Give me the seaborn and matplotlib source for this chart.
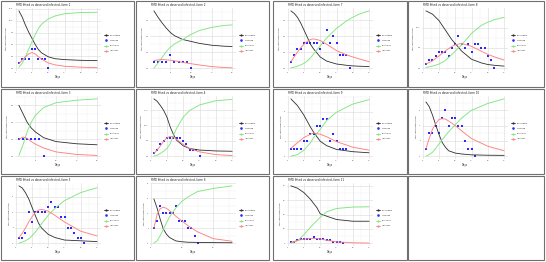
import matplotlib
matplotlib.use("Agg")
import matplotlib.pyplot as plt
import seaborn as sns
from matplotlib.lines import Line2D
from matplotlib.patches import Rectangle
from matplotlib.ticker import AutoMinorLocator

sns.set_theme(style="white")
plt.rcParams['font.family'] = ['DejaVu Sans']

# ---------------- data ----------------
f1_days = [1, 2, 3, 4, 5, 6, 7, 8, 10, 12, 15, 20, 25]
f1_S = [12.1, 10.8, 9.1, 7.6, 6.3, 5.0, 3.9, 3.2, 2.4, 2.0, 1.8, 1.65, 1.6]
f1_R = [0.2, 1.0, 2.4, 4.0, 5.6, 7.1, 8.4, 9.3, 10.4, 11.0, 11.5, 11.75, 11.8]
f1_I = [0.9, 1.7, 2.4, 3.0, 3.3, 3.0, 2.4, 1.9, 1.1, 0.7, 0.4, 0.2, 0.1]
f1_obs_days = [1, 2, 3, 4, 5, 6, 7, 8, 9, 10]
f1_obs = [1, 2, 2, 2, 4, 4, 2, 2, 2, 0]
f1_yticks = [0, 2.5, 5, 7.5, 10, 12.5]
f1_ylabels = ["0.0", "2.5", "5.0", "7.5", "10.0", "12.5"]

f2_days = [1, 2, 3, 4, 5, 6, 8, 10, 12, 15, 18, 20]
f2_S = [9.0, 8.0, 7.1, 6.3, 5.6, 5.1, 4.5, 4.2, 3.9, 3.6, 3.45, 3.4]
f2_R = [0.0, 0.8, 1.7, 2.6, 3.3, 3.8, 4.5, 5.3, 5.9, 6.4, 6.7, 6.8]
f2_I = [1.2, 1.3, 1.35, 1.3, 1.25, 1.15, 0.9, 0.7, 0.5, 0.25, 0.1, 0.05]
f2_obs_days = [1, 2, 3, 4, 5, 6, 7, 8, 9, 10]
f2_obs = [1, 1, 1, 1, 2, 1, 1, 1, 1, 0]
f2_yticks = [0, 2.5, 5, 7.5]
f2_ylabels = ["0.0", "2.5", "5.0", "7.5"]

f3_days = [1, 2, 3, 4, 5, 7, 10, 15, 20]
f3_S = [3.0, 2.5, 2.0, 1.66, 1.43, 1.09, 0.86, 0.73, 0.67]
f3_R = [0.04, 0.67, 1.43, 2.0, 2.4, 2.87, 3.15, 3.3, 3.38]
f3_I = [1.0, 1.13, 1.05, 0.86, 0.71, 0.48, 0.25, 0.1, 0.04]
f3_obs_days = [1, 2, 3, 4, 5, 6, 7]
f3_obs = [1, 1, 1, 1, 1, 1, 0]
f3_yticks = [0, 1, 2, 3]
f3_ylabels = ["0.0", "1.0", "2.0", "3.0"]

f4_days = [1, 2, 3, 4, 5, 6, 7, 8, 10, 12, 15, 20, 25]
f4_S = [18.8, 18.0, 16.6, 15.0, 12.8, 9.6, 7.1, 5.2, 3.4, 2.5, 2.0, 1.7, 1.6]
f4_R = [0.0, 0.3, 0.9, 1.6, 2.5, 4.1, 6.8, 9.2, 12.8, 15.0, 16.8, 18.2, 18.6]
f4_I = [0.9, 2.0, 3.4, 4.9, 6.0, 6.5, 6.3, 5.5, 3.8, 2.5, 1.4, 0.5, 0.2]
f4_obs_days = [1, 2, 3, 4, 5, 6, 7, 8, 9, 10, 11, 12, 13, 14, 15]
f4_obs = [1, 2, 4, 5, 6, 6, 6, 6, 6, 5, 4, 2, 2, 2, 0]
f4_yticks = [0, 5, 10, 15]
f4_ylabels = ["0.0", "5.0", "10.0", "15.0"]

f5_days = [1, 2, 3, 4, 5, 6, 7, 8, 10, 12, 15, 20, 25]
f5_S = [11.1, 10.7, 9.8, 8.6, 7.0, 5.4, 3.9, 2.9, 1.7, 1.1, 0.6, 0.45, 0.3]
f5_R = [0.0, 0.2, 0.45, 0.85, 1.4, 2.1, 2.9, 3.8, 5.4, 6.7, 8.25, 9.8, 10.75]
f5_I = [1.05, 1.9, 2.9, 4.1, 5.1, 5.9, 6.4, 6.55, 6.2, 5.4, 4.1, 2.3, 1.4]
f5_obs_days = list(range(1, 22))
f5_obs = [1, 1, 2, 6, 4, 6, 6, 6, 6, 7, 8, 7, 7, 5, 5, 3, 3, 2, 1, 1, 0]
f5_yticks = [0, 3, 6, 9]
f5_ylabels = ["0", "3", "6", "9"]

f6_days = [1, 2, 3, 4, 5, 6, 8, 10, 12, 15, 20, 26]
f6_S = [5.9, 4.7, 3.2, 1.9, 1.2, 0.75, 0.3, 0.18, 0.12, 0.1, 0.07, 0.05]
f6_R = [0.0, 0.3, 1.0, 1.85, 2.7, 3.5, 4.7, 5.6, 6.2, 6.9, 7.3, 7.65]
f6_I = [2.0, 3.8, 4.6, 4.8, 4.65, 4.35, 3.6, 2.95, 2.3, 1.5, 0.6, 0.25]
f6_obs_days = list(range(1, 16))
f6_obs = [2, 3, 5, 4, 4, 4, 4, 5, 3, 3, 3, 2, 2, 1, 0]
f6_yticks = [0, 2, 4, 6, 8]
f6_ylabels = ["0", "2", "4", "6", "8"]

f7_days = [1, 2, 3, 4, 5, 6, 7, 8, 10, 12, 15, 18, 20, 22, 25]
f7_S = [9.0, 8.6, 8.0, 7.1, 6.0, 4.9, 3.75, 3.0, 1.75, 1.1, 0.65, 0.45, 0.35, 0.3, 0.25]
f7_R = [0.05, 0.15, 0.3, 0.5, 0.75, 1.1, 1.6, 2.25, 3.5, 4.75, 6.25, 7.4, 8.0, 8.5, 9.0]
f7_I = [1.0, 1.8, 2.5, 3.2, 3.75, 4.2, 4.5, 4.6, 4.35, 3.75, 2.75, 2.1, 1.75, 1.45, 1.0]
f7_obs_days = list(range(1, 20))
f7_obs = [1, 2, 3, 3, 4, 4, 4, 4, 4, 3, 4, 6, 4, 5, 4, 2, 2, 2, 0]
f7_yticks = [0, 2.5, 5, 7.5]
f7_ylabels = ["0.0", "2.5", "5.0", "7.5"]

f8_days = [1, 3, 5, 7, 9, 10, 12, 15, 18, 20, 22, 25]
f8_S = [14.2, 13.4, 11.8, 9.4, 7.0, 6.1, 4.2, 2.2, 1.3, 0.9, 0.7, 0.5]
f8_R = [0.15, 0.5, 1.0, 1.9, 3.4, 4.2, 5.8, 8.6, 10.6, 11.4, 12.0, 12.6]
f8_I = [1.0, 1.8, 3.0, 4.3, 5.4, 5.8, 6.1, 5.4, 4.2, 3.4, 2.8, 2.0]
f8_obs_days = list(range(1, 23))
f8_obs = [1, 2, 2, 3, 4, 4, 4, 3, 5, 6, 8, 6, 5, 6, 4, 6, 6, 5, 5, 3, 2, 0]
f8_yticks = [0, 5, 10]
f8_ylabels = ["0.0", "5.0", "10.0"]

f9_days = [1, 3, 5, 7, 8, 10, 12, 15, 20, 25]
f9_S = [7.7, 6.8, 5.5, 3.9, 3.2, 2.0, 1.4, 0.9, 0.6, 0.45]
f9_R = [0.0, 0.2, 0.8, 1.8, 2.5, 3.6, 4.8, 5.9, 7.0, 7.6]
f9_I = [1.05, 1.8, 2.5, 2.95, 3.1, 2.95, 2.6, 1.95, 1.2, 0.8]
f9_obs_days = list(range(1, 19))
f9_obs = [1, 1, 1, 1, 2, 2, 3, 3, 4, 4, 5, 5, 2, 3, 2, 1, 1, 1]
f9_yticks = [0, 2, 4, 6]
f9_ylabels = ["0", "2", "4", "6"]

f10_days = [1, 2, 3, 4, 5, 6, 7, 8, 10, 12, 15, 20, 25]
f10_S = [7.1, 6.5, 5.4, 4.1, 2.85, 1.8, 1.15, 0.7, 0.4, 0.28, 0.17, 0.12, 0.1]
f10_R = [0.0, 0.2, 0.5, 1.0, 1.6, 2.15, 2.7, 3.2, 4.1, 5.0, 6.0, 6.9, 7.5]
f10_I = [0.95, 2.3, 3.5, 4.25, 4.8, 4.9, 4.85, 4.6, 4.0, 3.3, 2.3, 1.3, 0.7]
f10_obs_days = list(range(1, 17))
f10_obs = [1, 3, 3, 4, 3, 5, 6, 4, 5, 5, 4, 4, 2, 1, 1, 0]
f10_yticks = [0, 2, 4, 6]
f10_ylabels = ["0", "2", "4", "6"]

f11_days = [1, 3, 5, 7, 9, 10, 12, 15, 20, 25]
f11_S = [40, 38.4, 35.3, 30.6, 24.7, 20.5, 18.8, 16.5, 15.3, 15.3]
f11_R = [0, 1.6, 5.9, 11.1, 15.8, 18.0, 21.9, 24.2, 25.2, 25.4]
f11_I = [0.5, 1.9, 2.8, 3.3, 3.3, 2.9, 2.0, 0.9, 0.25, 0.05]
f11_obs_days = list(range(1, 18))
f11_obs = [1, 1, 2, 3, 3, 3, 3, 4, 3, 3, 3, 2, 2, 1, 1, 1, 0]
f11_yticks = [0, 10, 20, 30, 40]
f11_ylabels = ["0", "10", "20", "30", "40"]

farm_names = ["farm 1", "farm 2", "farm 3", "farm 4", "farm 5", "farm 6",
              "farm 7", "farm 8", "farm 9", "farm 10", "farm 11"]
legend_labels = ["Susceptible", "Observed", "Recovered", "Infectious"]

farms = {
    1: (f1_days, f1_S, f1_R, f1_I, f1_obs_days, f1_obs, f1_yticks, f1_ylabels),
    2: (f2_days, f2_S, f2_R, f2_I, f2_obs_days, f2_obs, f2_yticks, f2_ylabels),
    3: (f3_days, f3_S, f3_R, f3_I, f3_obs_days, f3_obs, f3_yticks, f3_ylabels),
    4: (f4_days, f4_S, f4_R, f4_I, f4_obs_days, f4_obs, f4_yticks, f4_ylabels),
    5: (f5_days, f5_S, f5_R, f5_I, f5_obs_days, f5_obs, f5_yticks, f5_ylabels),
    6: (f6_days, f6_S, f6_R, f6_I, f6_obs_days, f6_obs, f6_yticks, f6_ylabels),
    7: (f7_days, f7_S, f7_R, f7_I, f7_obs_days, f7_obs, f7_yticks, f7_ylabels),
    8: (f8_days, f8_S, f8_R, f8_I, f8_obs_days, f8_obs, f8_yticks, f8_ylabels),
    9: (f9_days, f9_S, f9_R, f9_I, f9_obs_days, f9_obs, f9_yticks, f9_ylabels),
    10: (f10_days, f10_S, f10_R, f10_I, f10_obs_days, f10_obs, f10_yticks, f10_ylabels),
    11: (f11_days, f11_S, f11_R, f11_I, f11_obs_days, f11_obs, f11_yticks, f11_ylabels),
}

# ---------------- layout ----------------
W, H = 546, 262
CS, CR, CI, CO = "#2E2E2E", "#80E680", "#FF8080", "#2A2AFF"

fig = plt.figure(figsize=(W / 100, H / 100), dpi=100)
fig.patch.set_facecolor("white")

cols = [(1, 134), (136, 269), (273, 407), (408, 544)]
rows = [(1, 87), (89, 174), (176, 260)]
grid = [[1, 2, 7, 8], [3, 4, 9, 10], [5, 6, 11, None]]


def fx(px):
    return px / W


def fy(py):
    return 1 - py / H


def draw_panel(farm, x0, y0, x1, y1):
    d, S, R, I, od, ob, yt, yl = farms[farm]
    left, right = x0 + 14, x0 + 100
    top, bottom = y0 + 7, y0 + 70
    ax = fig.add_axes([fx(left), fy(bottom), fx(right - left), (bottom - top) / H])
    sns.lineplot(x=d, y=S, ax=ax, color=CS, lw=0.6)
    sns.lineplot(x=d, y=R, ax=ax, color=CR, lw=0.65)
    sns.lineplot(x=d, y=I, ax=ax, color=CI, lw=0.65)
    sns.scatterplot(x=od, y=ob, ax=ax, color=CO, s=1.3, marker="s", linewidth=0)
    xmin, xmax = min(d), max(d)
    pad = (xmax - xmin) * 0.05
    ax.set_xlim(xmin - pad, xmax + pad)
    allv = list(S) + list(R) + list(I) + list(ob)
    ymin, ymax = min(allv), max(allv)
    ypad = (ymax - ymin) * 0.05
    ax.set_ylim(ymin - ypad, ymax + ypad)
    step = 10 if farm == 6 else 5
    xt = [t for t in range(0, 30, step) if xmin - pad <= t <= xmax + pad]
    ax.set_xticks(xt)
    ax.set_xticklabels([str(t) for t in xt])
    ax.set_yticks(yt)
    ax.set_yticklabels(yl)
    ax.xaxis.set_minor_locator(AutoMinorLocator(2))
    ax.yaxis.set_minor_locator(AutoMinorLocator(2))
    ax.grid(True, which="major", color="#DDDDDD", lw=0.45)
    ax.grid(True, which="minor", color="#EDEDED", lw=0.3)
    ax.set_axisbelow(True)
    for s in ax.spines.values():
        s.set_visible(False)
    ax.tick_params(axis="both", which="both", length=0, labelsize=1.4,
                   labelcolor="#4D4D4D", pad=1.0)
    ax.set_xlabel("Days", fontsize=1.8, labelpad=1.5)
    ax.set_ylabel("Total cattle population", fontsize=1.5, labelpad=1.5)
    fig.text(fx(x0 + 15), fy(y0 + 4), "FMD fitted vs observed infected, " + farm_names[farm - 1],
             fontsize=2.0, va="center", ha="left", color="#222222")
    handles = [
        Line2D([], [], color=CS, lw=0.6, marker="o", ms=0.6),
        Line2D([], [], color=CO, lw=0, marker="s", ms=0.8),
        Line2D([], [], color=CR, lw=0.6, marker="o", ms=0.6),
        Line2D([], [], color=CI, lw=0.6, marker="o", ms=0.6),
    ]
    ax.legend(handles, legend_labels, loc="center left",
              bbox_to_anchor=(fx(x0 + 102), fy(y0 + 42)), bbox_transform=fig.transFigure,
              frameon=False, fontsize=1.4, handlelength=2.2, handletextpad=0.8,
              labelspacing=1.9, borderpad=0)
    return ax


for r, (ry0, ry1) in enumerate(rows):
    for c, (cx0, cx1) in enumerate(cols):
        farm = grid[r][c]
        if farm is not None:
            draw_panel(farm, cx0, ry0, cx1, ry1)
        fig.add_artist(Rectangle((fx(cx0), fy(ry1)), fx(cx1 - cx0), (ry1 - ry0) / H,
                                 transform=fig.transFigure, fill=False,
                                 ec="#707070", lw=0.8))

fig.savefig("out.png", dpi=100)
